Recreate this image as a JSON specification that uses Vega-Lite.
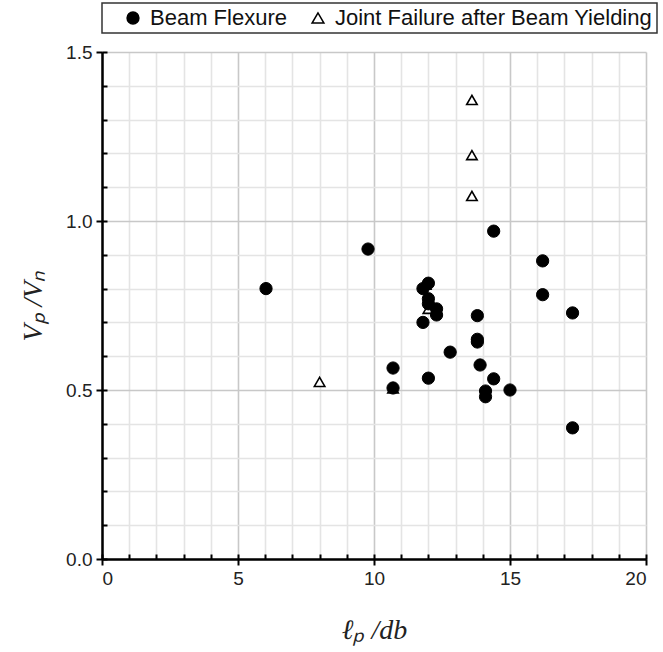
{
  "$schema": "https://vega.github.io/schema/vega-lite/v6.json",
  "width": 544,
  "height": 507,
  "autosize": "none",
  "padding": {"left": 102, "top": 52, "right": 17, "bottom": 93},
  "background": "white",
  "config": {
    "view": {"stroke": null},
    "font": "Liberation Sans",
    "axis": {"labelFont": "Liberation Sans", "labelFontSize": 19, "labelColor": "#222", "domainColor": "black", "domainWidth": 2, "tickColor": "black", "tickWidth": 2, "titleFont": "Liberation Serif", "titleFontStyle": "italic", "titleFontWeight": "normal", "titleFontSize": 28, "titleColor": "#222"},
    "legend": {"orient": "none", "legendX": 0, "legendY": -49, "direction": "horizontal", "gridAlign": "none", "strokeColor": "#333", "strokeWidth": 1.5, "padding": 4,
      "labelFontSize": 22, "labelFont": "Liberation Sans", "labelColor": "#111", "labelLimit": 600, "symbolSize": 140, "symbolStrokeWidth": 1.5, "symbolOffset": 16, "columnPadding": 4, "labelOffset": 6}
  },
  "data": {"values": [
    {"x": 10.7, "y": 0.505, "type": "Joint Failure after Beam Yielding"},
    {"x": 11.9, "y": 0.812, "type": "Joint Failure after Beam Yielding"},
    {"x": 12.0, "y": 0.74, "type": "Joint Failure after Beam Yielding"},
    {"x": 8.0, "y": 0.524, "type": "Joint Failure after Beam Yielding"},
    {"x": 13.6, "y": 1.358, "type": "Joint Failure after Beam Yielding"},
    {"x": 13.6, "y": 1.195, "type": "Joint Failure after Beam Yielding"},
    {"x": 13.6, "y": 1.074, "type": "Joint Failure after Beam Yielding"},
    {"x": 6.03, "y": 0.80, "type": "Beam Flexure"},
    {"x": 9.78, "y": 0.917, "type": "Beam Flexure"},
    {"x": 10.7, "y": 0.565, "type": "Beam Flexure"},
    {"x": 10.7, "y": 0.506, "type": "Beam Flexure"},
    {"x": 12.0, "y": 0.535, "type": "Beam Flexure"},
    {"x": 11.8, "y": 0.70, "type": "Beam Flexure"},
    {"x": 12.0, "y": 0.816, "type": "Beam Flexure"},
    {"x": 11.8, "y": 0.80, "type": "Beam Flexure"},
    {"x": 12.0, "y": 0.77, "type": "Beam Flexure"},
    {"x": 12.0, "y": 0.755, "type": "Beam Flexure"},
    {"x": 12.3, "y": 0.74, "type": "Beam Flexure"},
    {"x": 12.3, "y": 0.722, "type": "Beam Flexure"},
    {"x": 12.8, "y": 0.612, "type": "Beam Flexure"},
    {"x": 13.8, "y": 0.72, "type": "Beam Flexure"},
    {"x": 13.8, "y": 0.65, "type": "Beam Flexure"},
    {"x": 13.8, "y": 0.642, "type": "Beam Flexure"},
    {"x": 13.9, "y": 0.574, "type": "Beam Flexure"},
    {"x": 14.4, "y": 0.533, "type": "Beam Flexure"},
    {"x": 14.1, "y": 0.497, "type": "Beam Flexure"},
    {"x": 14.1, "y": 0.48, "type": "Beam Flexure"},
    {"x": 15.0, "y": 0.50, "type": "Beam Flexure"},
    {"x": 14.4, "y": 0.97, "type": "Beam Flexure"},
    {"x": 16.2, "y": 0.882, "type": "Beam Flexure"},
    {"x": 16.2, "y": 0.782, "type": "Beam Flexure"},
    {"x": 17.3, "y": 0.728, "type": "Beam Flexure"},
    {"x": 17.3, "y": 0.388, "type": "Beam Flexure"}
  ]},
  "resolve": {"axis": {"x": "independent", "y": "independent"}},
  "layer": [
    {
      "transform": [{"filter": "datum.type === 'Joint Failure after Beam Yielding'"}],
      "mark": {"type": "point", "strokeWidth": 1.6, "size": 110, "opacity": 1},
      "encoding": {
        "x": {"field": "x", "type": "quantitative", "scale": {"domain": [0, 20], "nice": false},
          "axis": {"orient": "bottom", "values": [0,1,2,3,4,5,6,7,8,9,10,11,12,13,14,15,16,17,18,19,20], "labels": false, "title": null, "grid": true,
            "gridColor": {"condition": {"test": "datum.value % 5 === 0", "value": "#c8c8c8"}, "value": "#e4e4e4"}, "gridWidth": 1.6,
            "tickSize": -5, "domain": true}},
        "y": {"field": "y", "type": "quantitative", "scale": {"domain": [0, 1.5], "nice": false},
          "axis": {"orient": "left", "values": [0,0.1,0.2,0.3,0.4,0.5,0.6,0.7,0.8,0.9,1.0,1.1,1.2,1.3,1.4,1.5], "labels": false, "title": null, "grid": true,
            "gridColor": {"condition": {"test": "abs(round(datum.value*10) % 5) === 0", "value": "#c8c8c8"}, "value": "#e4e4e4"}, "gridWidth": 1.6,
            "tickSize": -5, "domain": true}},
        "shape": {"field": "type", "type": "nominal", "scale": {"domain": ["Beam Flexure", "Joint Failure after Beam Yielding"], "range": ["circle", "triangle-up"]}, "legend": {"title": null}},
        "fill": {"field": "type", "type": "nominal", "scale": {"domain": ["Beam Flexure", "Joint Failure after Beam Yielding"], "range": ["black", "white"]}, "legend": {"title": null}},
        "stroke": {"field": "type", "type": "nominal", "scale": {"domain": ["Beam Flexure", "Joint Failure after Beam Yielding"], "range": ["black", "black"]}, "legend": {"title": null}}
      }
    },
    {
      "transform": [{"filter": "datum.type === 'Beam Flexure'"}],
      "mark": {"type": "point", "strokeWidth": 1, "size": 150, "opacity": 1},
      "encoding": {
        "x": {"field": "x", "type": "quantitative", "scale": {"domain": [0, 20], "nice": false},
          "axis": {"orient": "bottom", "values": [0,5,10,15,20], "grid": false, "tickSize": 6, "labelPadding": 4, "title": "ℓₚ /db", "titlePadding": 28}},
        "y": {"field": "y", "type": "quantitative", "scale": {"domain": [0, 1.5], "nice": false},
          "axis": {"orient": "left", "values": [0,0.5,1.0,1.5], "format": ".1f", "grid": false, "tickSize": 6, "labelPadding": 4, "title": "Vₚ /Vₙ", "titlePadding": 18}},
        "shape": {"field": "type", "type": "nominal", "legend": {"title": null}},
        "fill": {"field": "type", "type": "nominal", "legend": {"title": null}},
        "stroke": {"field": "type", "type": "nominal", "legend": {"title": null}}
      }
    }
  ]
}
